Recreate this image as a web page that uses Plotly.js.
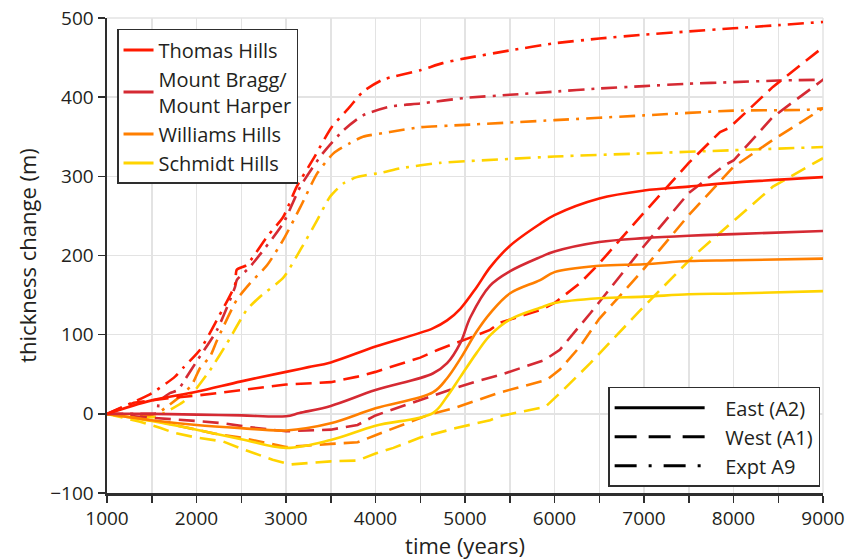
<!DOCTYPE html>
<html>
<head>
<meta charset="utf-8">
<script src="https://cdn.plot.ly/plotly-3.0.1.min.js"></script>
<style>html,body{margin:0;padding:0;background:#fff;}#chart{width:854px;height:560px;}</style>
</head>
<body>
<div id="chart"></div>
<script>
// ---- Data ----
const locations = ["Thomas Hills", "Mount Bragg/<br>Mount Harper", "Williams Hills", "Schmidt Hills"];
const scenarios = ["East (A2)", "West (A1)", "Expt A9"];

// East (A2) – solid
const thomasEastT = [1000,1500,2000,2500,3000,3250,3500,4000,4640,4800,4950,5130,5280,5500,5840,6000,6500,7000,7500,8000,9000];
const thomasEastV = [0,17,28,41,53,59,65,85,108,118,133,160,185,212,240,251,272,282,287,292,299];
const braggEastT = [1000,1500,2000,2500,3000,3150,3500,4000,4640,4800,4950,5060,5280,5500,5840,6000,6500,7000,7500,8000,9000];
const braggEastV = [0,0,-1,-2,-3,1,10,30,51,64,90,122,162,180,198,205,217,222,225,227,231];
const williamsEastT = [1000,1500,2000,2500,3000,3500,4000,4640,4800,4950,5130,5280,5500,5840,6000,6500,7000,7500,8000,9000];
const williamsEastV = [0,-8,-14,-18,-21,-12,7,27,45,70,104,127,152,169,179,187,189,193,194,196];
const schmidtEastT = [1000,1500,2000,2500,3000,3500,4000,4640,4800,4950,5130,5280,5500,5840,6000,6500,7000,7500,8000,9000];
const schmidtEastV = [0,-9,-20,-32,-43,-33,-15,1,22,47,77,99,119,134,140,146,148,151,152,155];

// West (A1) – dashed
const thomasWestT = [1000,1300,1700,2000,2500,3000,3500,3800,4000,4300,4500,4700,4900,5100,5280,5390,5840,6000,6285,6500,6960,7500,7850,7950,8440,9000];
const thomasWestV = [0,14,20,23,30,37,40,47,53,64,71,81,90,98,106,115,131,140,165,190,249,317,356,361,413,463];
const braggWestT = [1000,1500,2000,2300,2600,3000,3500,3800,4000,4300,4600,4900,5100,5390,5890,6060,6400,6810,7000,7500,7900,8000,8440,9000];
const braggWestV = [0,-5,-9,-12,-17,-22,-20,-14,-2,10,22,33,40,49,68,81,127,186,212,279,314,320,375,422];
const williamsWestT = [1000,1500,1750,2000,2200,2500,2700,3000,3500,3800,4000,4300,4600,4900,5200,5390,5915,6060,6285,6500,6960,7500,8000,8440,9000];
const williamsWestV = [0,-8,-14,-20,-25,-30,-35,-42,-38,-36,-27,-14,-1,8,20,27,43,56,85,120,178,251,312,346,386];
const schmidtWestT = [1000,1370,1600,1750,2000,2300,2500,2750,2850,3050,3270,3500,3800,4000,4200,4500,4900,5280,5390,5900,6060,6400,6960,7550,8440,9000];
const schmidtWestV = [0,-10,-18,-24,-30,-35,-44,-54,-58,-64,-62,-60,-59,-50,-43,-30,-18,-8,-3,9,26,64,131,199,287,323];

// Expt A9 – dash-dot
const thomasA9T = [1000,1300,1500,1760,1850,2040,2230,2430,2450,2560,2790,2970,3120,3300,3510,3715,3860,4080,4500,4750,5000,5500,6000,6500,7000,7500,8000,8500,9000];
const thomasA9V = [0,15,26,47,58,81,119,163,182,188,224,249,287,321,362,388,407,422,434,443,449,459,468,474,479,483,487,491,495];
const braggA9T = [1000,1400,1560,1580,1700,1790,1870,2000,2230,2430,2450,2600,2970,3160,3410,3640,3860,4160,4500,5000,5500,6000,6500,7000,7500,8000,8500,9000];
const braggA9V = [0,0,1,15,26,30,43,66,106,160,169,186,241,287,329,358,377,388,392,399,403,407,411,414,417,419,421,422];
const williamsA9T = [1000,1300,1550,1670,1840,1950,2040,2150,2230,2450,2600,2790,2970,3160,3350,3530,3715,3860,4160,4500,5000,6000,7000,8000,8800,9000];
const williamsA9V = [0,-2,0,9,24,37,58,72,93,144,165,188,220,261,304,329,342,350,356,362,365,371,377,383,384,386];
const schmidtA9T = [1000,1300,1550,1670,1850,1970,2150,2340,2560,2710,2970,3160,3350,3490,3640,3790,4080,4270,4720,5500,6000,7000,8000,9000];
const schmidtA9V = [0,-3,-4,3,15,28,55,89,131,148,172,207,245,274,291,299,305,310,317,322,325,329,333,337];

// ---- Styles ----
const colors = ["#ff1a00", "#d52a33", "#ff7f00", "#ffd400"];
const dashes = ["solid", "16px,8px", "16px,7px,3px,7px"];
const shapes = ["spline", "linear", "spline"];
const smooth = [1.0, 0, 0.6];
const LW = 2.6;

const series = [
  [[thomasEastT, thomasEastV], [thomasWestT, thomasWestV], [thomasA9T, thomasA9V]],
  [[braggEastT, braggEastV], [braggWestT, braggWestV], [braggA9T, braggA9V]],
  [[williamsEastT, williamsEastV], [williamsWestT, williamsWestV], [williamsA9T, williamsA9V]],
  [[schmidtEastT, schmidtEastV], [schmidtWestT, schmidtWestV], [schmidtA9T, schmidtA9V]]
];

const traces = [];
for (let s = 2; s >= 0; s--) {
  for (let i = 3; i >= 0; i--) {
    const [t, v] = series[i][s];
    const line = {color: colors[i], width: LW, dash: dashes[s], shape: shapes[s]};
    if (shapes[s] === "spline") line.smoothing = smooth[s];
    traces.push({
      type: "scatter", mode: "lines", x: t, y: v, line: line,
      name: locations[i], showlegend: false, hoverinfo: "skip"
    });
  }
}
// legend 1: locations
for (let i = 0; i < 4; i++) {
  traces.push({
    type: "scatter", mode: "lines", x: [null], y: [null],
    line: {color: colors[i], width: 3}, name: locations[i],
    showlegend: true, legend: "legend", legendrank: i + 1
  });
}
// legend 2: scenarios
const legendDashes = ["solid", "22px,12px", "22px,12px,3px,12px"];
for (let s = 0; s < 3; s++) {
  traces.push({
    type: "scatter", mode: "lines", x: [null], y: [null],
    line: {color: "#000", width: 3, dash: legendDashes[s]},
    name: "\u00a0\u00a0\u00a0" + scenarios[s], showlegend: true, legend: "legend2", legendrank: s + 1
  });
}

const FONT = "Open Sans, Noto Sans, sans-serif";
const gridC = "#e3e3e3";
const axC = "#2e2e2e";

const layout = {
  width: 854, height: 560,
  margin: {l: 107, r: 31, t: 18, b: 67},
  paper_bgcolor: "#fff", plot_bgcolor: "#fff",
  font: {family: FONT, color: "#231f20", size: 19},
  showlegend: true,
  hovermode: false,
  xaxis: {
    range: [1000, 9000], dtick: 1000, tick0: 1000,
    showgrid: true, gridcolor: gridC, gridwidth: 1.5,
    zeroline: false, showline: true, linecolor: axC, linewidth: 2.5,
    ticks: "outside", ticklen: 7, tickwidth: 1.5, tickcolor: axC,
    tickfont: {size: 19, family: FONT, color: "#231f20"},
    minor: {dtick: 500, ticks: "outside", ticklen: 7, tickwidth: 1.5, tickcolor: axC, showgrid: true, gridcolor: gridC, gridwidth: 1.5},
    title: {text: "time (years)", font: {size: 22, family: FONT, color: "#231f20"}, standoff: 2}
  },
  yaxis: {
    range: [-100, 500], dtick: 100,
    showgrid: true, gridcolor: gridC, gridwidth: 1.5,
    zeroline: false, showline: true, linecolor: axC, linewidth: 2.5,
    ticks: "outside", ticklen: 7, tickwidth: 1.5, tickcolor: axC,
    tickfont: {size: 19, family: FONT, color: "#231f20"},
    title: {text: "thickness change (m)", font: {size: 22, family: FONT, color: "#231f20"}, standoff: 8}
  },
  legend: {
    x: 0.014, y: 0.977, xanchor: "left", yanchor: "top",
    bgcolor: "#fff", bordercolor: "#2e2e2e", borderwidth: 1.5,
    font: {size: 20, family: FONT, color: "#231f20"},
    itemwidth: 30, traceorder: "normal", tracegroupgap: 0
  },
  legend2: {
    x: 0.996, y: 0.013, xanchor: "right", yanchor: "bottom",
    bgcolor: "#fff", bordercolor: "#2e2e2e", borderwidth: 1.5,
    font: {size: 20, family: FONT, color: "#231f20"},
    itemwidth: 90, traceorder: "normal", tracegroupgap: 0
  },
  shapes: [
    {type: "line", xref: "paper", yref: "paper", x0: 0, x1: 1, y0: 1, y1: 1, line: {color: gridC, width: 1.5}, layer: "below"},
    {type: "line", xref: "paper", yref: "paper", x0: 1, x1: 1, y0: 0, y1: 1, line: {color: gridC, width: 1.5}, layer: "below"}
  ]
};

Plotly.newPlot("chart", traces, layout, {displayModeBar: false, staticPlot: true});
</script>
</body>
</html>
